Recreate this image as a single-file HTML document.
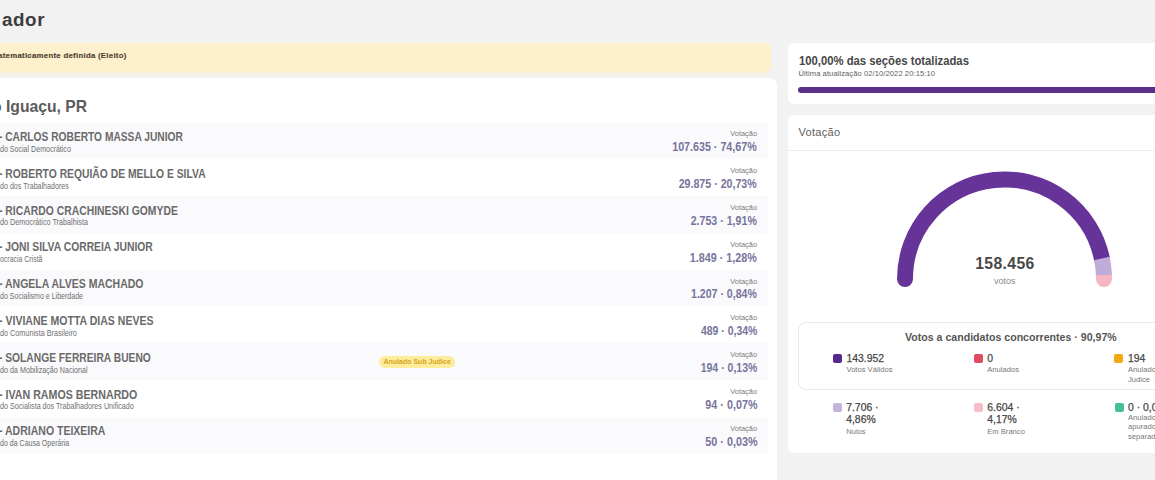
<!DOCTYPE html>
<html><head><meta charset="utf-8">
<style>
*{margin:0;padding:0;box-sizing:border-box}
html,body{width:1155px;height:480px;overflow:hidden;background:#f2f2f3;font-family:"Liberation Sans",sans-serif;}
.a{position:absolute;white-space:nowrap;line-height:1}
#title{left:2px;top:10.7px;font-size:18.8px;font-weight:bold;color:#3c3c3c;letter-spacing:0.6px}
#banner{position:absolute;left:-10px;top:42.8px;width:781px;height:29.2px;background:#feefcd;border-radius:5px}
#btxt{left:-1.9px;top:52px;font-size:7.8px;letter-spacing:0.28px;font-weight:bold;color:#4e4230;-webkit-text-stroke:0.15px #4e4230}
#lcard{position:absolute;left:-10px;top:78.3px;width:787px;height:420px;background:#fff;border-radius:8px}
#ltitle{left:-8px;top:98.9px;font-size:15.7px;font-weight:bold;color:#5c5c5c}
.row{position:absolute;left:-10px;width:778px;height:36.8px}
.row.g{background:#fafafc}
.nm{position:absolute;left:-1px;transform-origin:0 0;font-size:12px;font-weight:bold;color:#6a6a6a;line-height:1;white-space:nowrap}
.pt{position:absolute;left:-0.5px;transform-origin:0 0;font-size:8.2px;color:#6f6f6f;line-height:1;white-space:nowrap}
.vl{position:absolute;right:398px;font-size:7.4px;color:#7c7c7c;line-height:1;white-space:nowrap}
.vv{position:absolute;right:398px;transform-origin:100% 0;font-size:12.5px;font-weight:bold;color:#77749c;line-height:1;white-space:nowrap}
#badge{position:absolute;left:379px;top:355.5px;width:76px;height:12px;border-radius:6px;background:#fcec9c;}
#badge span{position:absolute;left:4.5px;top:2.5px;font-size:7px;font-weight:bold;color:#d9a31a;line-height:1;white-space:nowrap}
#rc1{position:absolute;left:788px;top:42.6px;width:400px;height:61px;background:#fff;border-radius:6px}
#rc2{position:absolute;left:788px;top:115.2px;width:400px;height:337.6px;background:#fff;border-radius:6px}
#pbar{position:absolute;left:798px;top:87px;width:400px;height:6px;background:#5b2f8a;border-radius:3px}
#divl{position:absolute;left:788px;top:150px;width:400px;height:1px;background:#ececf0}
#lbox{position:absolute;left:798px;top:322px;width:420px;height:68px;border:1px solid #e9e9ed;border-radius:8px}
.sw{position:absolute;width:9px;height:9px;border-radius:2px}
.ln{position:absolute;font-size:10.4px;line-height:12.6px;color:#474747;-webkit-text-stroke:0.25px #474747;white-space:nowrap}
.ll{position:absolute;font-size:7.6px;line-height:9.2px;color:#777;white-space:nowrap}
</style></head><body>
<div id="title" class="a">ador</div>
<div style="position:absolute;left:0;top:71px;width:768px;height:5px;background:linear-gradient(#faf0df,#f5f0ea)"></div>
<div id="banner"></div>
<div id="btxt" class="a">atematicamente definida (Eleito)</div>
<div id="lcard"></div>
<div id="ltitle" class="a">o Iguaçu, PR</div>

<div class="row g" style="top:122.5px"></div>
<div class="row" style="top:159.3px"></div>
<div class="row g" style="top:196.1px"></div>
<div class="row" style="top:232.9px"></div>
<div class="row g" style="top:269.7px"></div>
<div class="row" style="top:306.5px"></div>
<div class="row g" style="top:343.3px"></div>
<div class="row" style="top:380.1px"></div>
<div class="row g" style="top:416.9px"></div>

<div id="rows">
<div class="nm" id="n0" style="top:131.04px;transform:scaleX(0.8509)">- CARLOS ROBERTO MASSA JUNIOR</div>
<div class="pt" id="p0" style="top:145.76px;transform:scaleX(0.8650)">do Social Democrático</div>
<div class="vl" style="top:130.34px">Votação</div>
<div class="vv" id="v0" style="top:141.22px;transform:scaleX(0.8561)">107.635 · 74,67%</div>
<div class="nm" id="n1" style="top:167.84px;transform:scaleX(0.8608)">- ROBERTO REQUIÃO DE MELLO E SILVA</div>
<div class="pt" id="p1" style="top:182.56px;transform:scaleX(0.8692)">do dos Trabalhadores</div>
<div class="vl" style="top:167.14px">Votação</div>
<div class="vv" id="v1" style="top:178.02px;transform:scaleX(0.8511)">29.875 · 20,73%</div>
<div class="nm" id="n2" style="top:204.64px;transform:scaleX(0.8652)">- RICARDO CRACHINESKI GOMYDE</div>
<div class="pt" id="p2" style="top:219.36px;transform:scaleX(0.8824)">do Democrático Trabalhista</div>
<div class="vl" style="top:203.94px">Votação</div>
<div class="vv" id="v2" style="top:214.82px;transform:scaleX(0.8500)">2.753 · 1,91%</div>
<div class="nm" id="n3" style="top:241.44px;transform:scaleX(0.8609)">- JONI SILVA CORREIA JUNIOR</div>
<div class="pt" id="p3" style="top:256.16px;transform:scaleX(0.8475)">ocracia Cristã</div>
<div class="vl" style="top:240.74px">Votação</div>
<div class="vv" id="v3" style="top:251.62px;transform:scaleX(0.8610)">1.849 · 1,28%</div>
<div class="nm" id="n4" style="top:278.24px;transform:scaleX(0.8752)">- ANGELA ALVES MACHADO</div>
<div class="pt" id="p4" style="top:292.96px;transform:scaleX(0.8601)">do Socialismo e Liberdade</div>
<div class="vl" style="top:277.54px">Votação</div>
<div class="vv" id="v4" style="top:288.42px;transform:scaleX(0.8455)">1.207 · 0,84%</div>
<div class="nm" id="n5" style="top:315.04px;transform:scaleX(0.8778)">- VIVIANE MOTTA DIAS NEVES</div>
<div class="pt" id="p5" style="top:329.76px;transform:scaleX(0.8844)">do Comunista Brasileiro</div>
<div class="vl" style="top:314.34px">Votação</div>
<div class="vv" id="v5" style="top:325.22px;transform:scaleX(0.8382)">489 · 0,34%</div>
<div class="nm" id="n6" style="top:351.84px;transform:scaleX(0.8548)">- SOLANGE FERREIRA BUENO</div>
<div class="pt" id="p6" style="top:366.56px;transform:scaleX(0.8754)">do da Mobilização Nacional</div>
<div class="vl" style="top:351.14px">Votação</div>
<div class="vv" id="v6" style="top:362.02px;transform:scaleX(0.8418)">194 · 0,13%</div>
<div class="nm" id="n7" style="top:388.64px;transform:scaleX(0.8878)">- IVAN RAMOS BERNARDO</div>
<div class="pt" id="p7" style="top:403.36px;transform:scaleX(0.8748)">do Socialista dos Trabalhadores Unificado</div>
<div class="vl" style="top:387.94px">Votação</div>
<div class="vv" id="v7" style="top:398.82px;transform:scaleX(0.8617)">94 · 0,07%</div>
<div class="nm" id="n8" style="top:425.44px;transform:scaleX(0.8754)">- ADRIANO TEIXEIRA</div>
<div class="pt" id="p8" style="top:440.16px;transform:scaleX(0.8596)">do da Causa Operária</div>
<div class="vl" style="top:424.74px">Votação</div>
<div class="vv" id="v8" style="top:435.62px;transform:scaleX(0.8617)">50 · 0,03%</div>
</div>

<div id="badge"><span>Anulado Sub Judice</span></div>

<div id="rc1"></div>
<div class="a" style="left:798.6px;top:54.8px;font-size:12px;font-weight:bold;color:#474747;transform:scaleX(0.94);transform-origin:0 0">100,00% das seções totalizadas</div>
<div class="a" style="left:798.5px;top:69.6px;font-size:7.6px;color:#5e5e5e;letter-spacing:0.07px">Última atualização 02/10/2022 20:15:10</div>
<div id="pbar"></div>

<div id="rc2"></div>
<div class="a" style="left:798.5px;top:127px;font-size:11px;color:#606060;letter-spacing:0.3px">Votação</div>
<div id="divl"></div>

<svg style="position:absolute;left:0;top:0" width="1155" height="480">
  <path d="M1103.92,275.01 A99.5,99.5 0 0 1 1104.00,279.00" fill="none" stroke="#f7b6c6" stroke-width="16" stroke-linecap="round"/>
  <path d="M905.00,279.00 A99.5,99.5 0 0 1 1101.86,258.48" fill="none" stroke="#663399" stroke-width="16" stroke-linecap="round"/>
  <path d="M1101.86,258.48 A99.5,99.5 0 0 1 1103.92,275.01" fill="none" stroke="#c0acd8" stroke-width="16" stroke-linecap="butt"/>
</svg>

<div class="a" style="left:975.2px;top:256.3px;font-size:15.7px;font-weight:bold;color:#484848;letter-spacing:0.4px">158.456</div>
<div class="a" style="left:994px;top:276.8px;font-size:9px;color:#8a8a8a">votos</div>

<div id="lbox"></div>
<div class="a" style="left:905px;top:332px;font-size:11px;font-weight:bold;color:#555;transform:scaleX(0.963);transform-origin:0 0">Votos a candidatos concorrentes · 90,97%</div>

<div class="sw" style="left:833px;top:354px;background:#55298c"></div>
<div class="ln" style="left:846.5px;top:353.10px">143.952</div>
<div class="ll" style="left:846.5px;top:365.37px">Votos Válidos</div>
<div class="sw" style="left:974px;top:354px;background:#e04a5e"></div>
<div class="ln" style="left:987.3px;top:353.10px">0</div>
<div class="ll" style="left:987.3px;top:365.37px">Anulados</div>
<div class="sw" style="left:1114.3px;top:354px;background:#f5a815"></div>
<div class="ln" style="left:1128px;top:353.10px">194</div>
<div class="ll" style="left:1128px;top:365.37px">Anulados Sub<br>Judice</div>
<div class="sw" style="left:832.7px;top:403px;background:#c4b4dc"></div>
<div class="ln" style="left:846.2px;top:401.70px">7.706 ·<br>4,86%</div>
<div class="ll" style="left:846.2px;top:426.77px">Nulos</div>
<div class="sw" style="left:974px;top:403px;background:#f6bccb"></div>
<div class="ln" style="left:987.3px;top:401.70px">6.604 ·<br>4,17%</div>
<div class="ll" style="left:987.3px;top:426.77px">Em Branco</div>
<div class="sw" style="left:1115.2px;top:403px;background:#45c094"></div>
<div class="ln" style="left:1128px;top:401.70px">0 · 0,00%</div>
<div class="ll" style="left:1128px;top:413.17px">Anulados<br>apurados em<br>separado</div>
</body></html>
